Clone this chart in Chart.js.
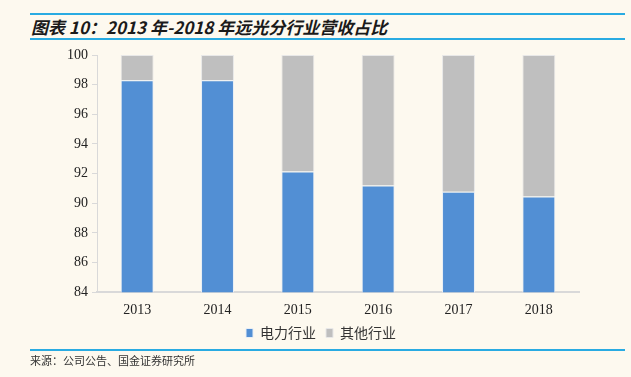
<!DOCTYPE html>
<html>
<head>
<meta charset="utf-8">
<script src="https://cdn.jsdelivr.net/npm/chart.js@4"></script>
<style>
  body { margin: 0; background: #fdf9ef; }
  #wrap { position: relative; width: 631px; height: 377px; background: #fdf9ef; }
  .rule { position: absolute; left: 30px; width: 595px; height: 2px; background: #29abe2; }
  #title { position: absolute; left: 31px; top: 14px; font: italic bold 17px "Noto Sans CJK SC", sans-serif; color: #1a1a1a; white-space: nowrap; }
  #source { position: absolute; left: 30px; top: 352px; font: 11px "Noto Sans CJK SC", sans-serif; color: #333; }
  canvas { position: absolute; left: 0; top: 0; }
</style>
</head>
<body>
<div id="wrap">
  <div class="rule" style="top:13px"></div>
  <div id="title">图表 10：2013 年-2018 年远光分行业营收占比</div>
  <div class="rule" style="top:38px"></div>
  <canvas id="chart" width="631" height="377"></canvas>
  <div class="rule" style="top:349px; height:1.5px"></div>
  <div id="source">来源：公司公告、国金证券研究所</div>
</div>
<script>
const years = ['2013', '2014', '2015', '2016', '2017', '2018'];
const powerShare = [98.3, 98.3, 92.15, 91.2, 90.77, 90.45];
const otherShare = [1.7, 1.7, 7.85, 8.8, 9.23, 9.55];
const yTicks = [84, 86, 88, 90, 92, 94, 96, 98, 100];

document.addEventListener('DOMContentLoaded', function() {
    drawChart();
});

// pull the legend up closer to the axis labels (keeps horizontal item spacing)
const legendLift = {
    id: 'legendLift',
    afterLayout(chart) {
        const lg = chart.legend;
        if (lg) {
            lg.top -= 13;
            lg.bottom -= 13;
        }
    }
};

function drawChart() {
    const ctx = document.getElementById('chart').getContext('2d');
    new Chart(ctx, {
        type: 'bar',
        data: {
            labels: years,
            datasets: [
                {
                    label: '电力行业',
                    data: powerShare,
                    backgroundColor: '#528fd4',
                    borderColor: '#e8eef5',
                    borderWidth: 1,
                    categoryPercentage: 0.82,
                    barPercentage: 0.5
                },
                {
                    label: '其他行业',
                    data: otherShare,
                    backgroundColor: '#bfbfbf',
                    borderColor: '#e8e8e8',
                    borderWidth: 1,
                    categoryPercentage: 0.82,
                    barPercentage: 0.5
                }
            ]
        },
        plugins: [legendLift],
        options: {
            responsive: false,
            animation: false,
            layout: { padding: { left: 63, right: 52, top: 55, bottom: 14 } },
            plugins: {
                legend: {
                    position: 'bottom',
                    labels: {
                        boxWidth: 7,
                        boxHeight: 9,
                        padding: 10,
                        color: '#333',
                        font: { family: '"Noto Sans CJK SC", sans-serif', size: 14 }
                    }
                },
                tooltip: { enabled: false }
            },
            scales: {
                x: {
                    stacked: true,
                    grid: { display: false, drawTicks: false },
                    border: { color: '#d9d9d9', width: 2 },
                    ticks: {
                        padding: 10,
                        color: '#222',
                        font: { family: '"Liberation Serif", serif', size: 14 }
                    }
                },
                y: {
                    stacked: true,
                    min: 84,
                    max: 100,
                    afterBuildTicks: function(axis) {
                        axis.ticks = yTicks.map(v => ({ value: v }));
                    },
                    grid: { display: true, drawOnChartArea: false, tickLength: 5, color: '#d9d9d9' },
                    border: { color: '#d9d9d9', width: 1 },
                    ticks: {
                        padding: 4,
                        color: '#222',
                        font: { family: '"Liberation Serif", serif', size: 14 }
                    }
                }
            }
        }
    });
}
</script>
</body>
</html>
